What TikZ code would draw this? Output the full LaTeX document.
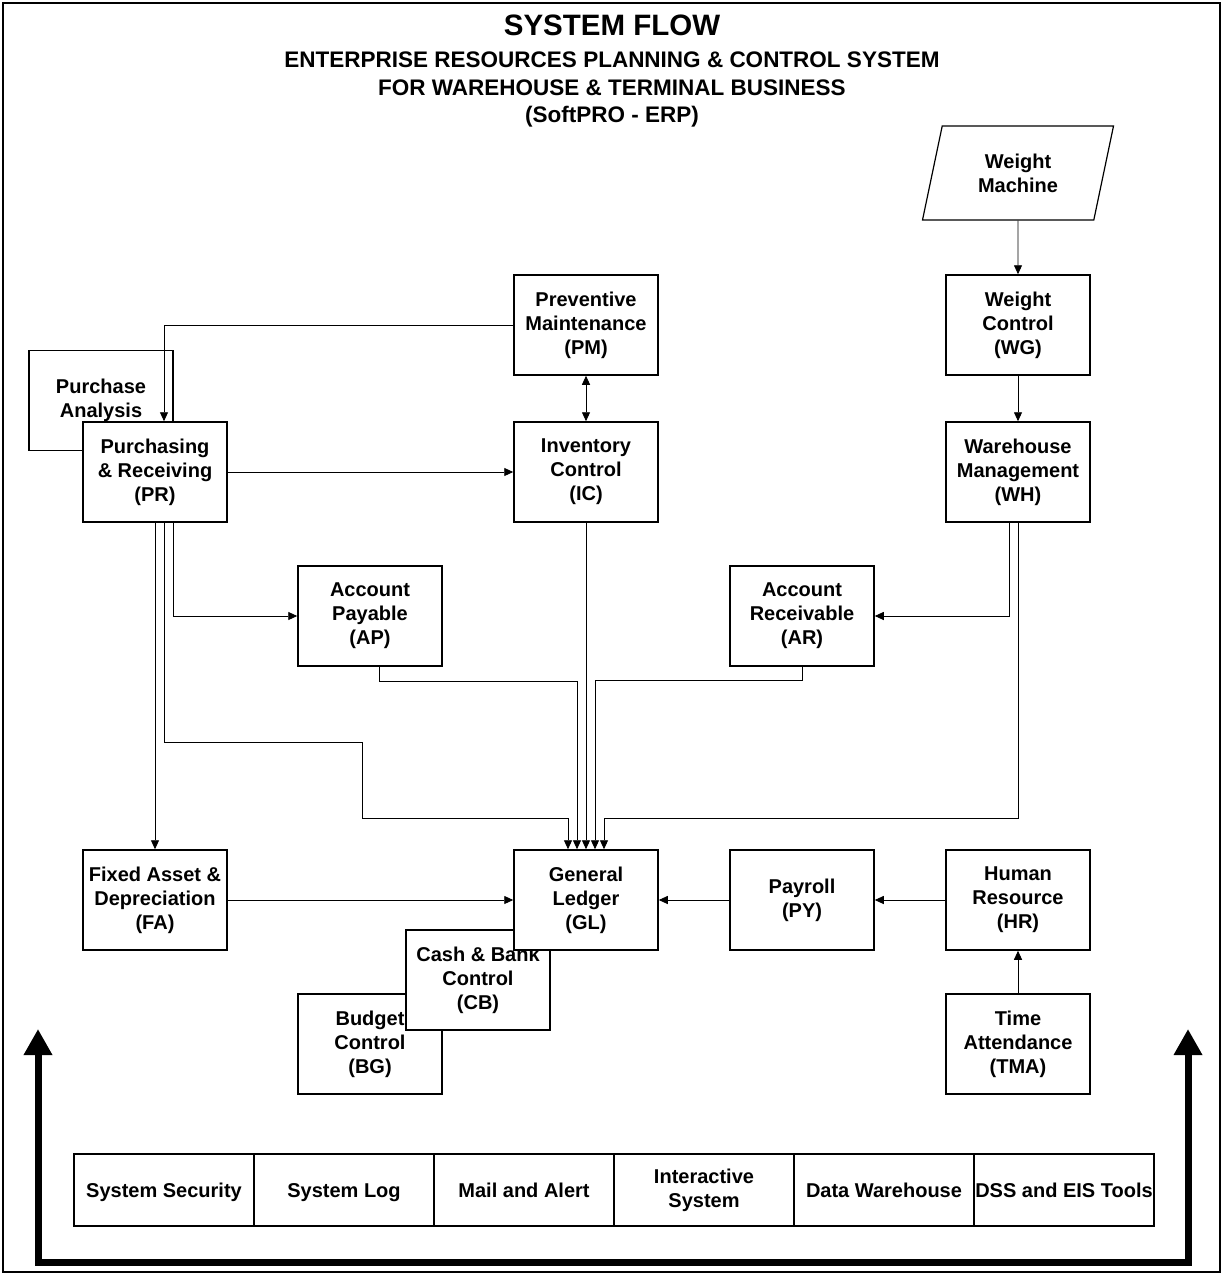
\documentclass[tikz,border=0pt]{standalone}
\usepackage{fontspec}
\setmainfont{Liberation Sans}
\usetikzlibrary{arrows.meta,positioning,shapes.geometric}

\begin{document}
\begin{tikzpicture}[x=1pt,y=-1pt,>={Triangle[width=8pt,length=9pt]},font=\fontsize{20}{24}\selectfont\bfseries]
\tikzset{mod/.style={draw,line width=1.5pt,fill=white,minimum width=144pt,minimum height=100pt,align=center,inner sep=0pt},
arr/.style={->,line width=0.9pt},
cell/.style={draw,line width=1.5pt,minimum width=180pt,minimum height=72pt,align=center,inner sep=0pt},
oneline/.style={text height=14.5pt,text depth=0.5pt},
bigarr/.style={{Triangle[width=27pt,length=26pt]}-{Triangle[width=27pt,length=26pt]},line width=7pt,line join=miter}}
\useasboundingbox (0,0) rectangle (1223,1276);
\draw[line width=1.2pt] (3,3) rectangle (1220,1272);
% title
\node[font=\fontsize{29.5}{34}\selectfont\bfseries] (title) at (612,25) {SYSTEM FLOW};
\node[font=\fontsize{22.5}{27.5}\selectfont\bfseries,align=center] (sub) at (612,89.5) {ENTERPRISE RESOURCES PLANNING \& CONTROL SYSTEM\\FOR WAREHOUSE \& TERMINAL BUSINESS\\(SoftPRO - ERP)};
% modules
\node[trapezium,trapezium left angle=63,trapezium right angle=117,trapezium stretches body,draw,line width=1.2pt,minimum width=191pt,minimum height=94pt,align=center,inner sep=0pt] (WM) at (1018,173) {Weight\\Machine};
\node[mod] (WG) at (1018,325) {Weight\\Control\\(WG)};
\node[mod,below=45.5pt of WG] (WH) {Warehouse\\Management\\(WH)};
\node[mod] (PM) at (586,325) {Preventive\\Maintenance\\(PM)};
\node[mod,below=45.5pt of PM] (IC) {Inventory\\Control\\(IC)};
\node[mod] (PA) at (101,400.5) {Purchase\\Analysis};
\node[mod] (PR) at (155,472) {Purchasing\\\& Receiving\\(PR)};
\node[mod] (AP) at (370,616) {Account\\Payable\\(AP)};
\node[mod] (AR) at (802,616) {Account\\Receivable\\(AR)};
\node[mod] (FA) at (155,900) {Fixed Asset \&\\Depreciation\\(FA)};
\node[mod] (BG) at (370,1044) {Budget\\Control\\(BG)};
\node[mod] (CB) at (478,980) {Cash \& Bank\\Control\\(CB)};
\node[mod] (GL) at (586,900) {General\\Ledger\\(GL)};
\node[mod,right=70.5pt of GL] (PY) {Payroll\\(PY)};
\node[mod,right=70.5pt of PY] (HR) {Human\\Resource\\(HR)};
\node[mod,below=42.5pt of HR] (TMA) {Time\\Attendance\\(TMA)};
% flows
\draw[arr] (WM) -- (WG);
\draw[arr] (WG) -- (WH);
\draw[arr,<->] (PM) -- (IC);
\draw[arr] (PM.west) -| ([xshift=9pt]PR.north);
\draw[arr] (PR) -- (IC);
\draw[arr] ([xshift=18pt]PR.south) |- (AP.west);
\draw[arr] (PR) -- (FA);
\draw[arr] ([xshift=9pt]PR.south) -- ++(0,220) -- ++(198,0) -- ++(0,76) -| ([xshift=-18pt]GL.north);
\draw[arr] ([xshift=9pt]AP.south) -- ++(0,15) -| ([xshift=-9pt]GL.north);
\draw[arr] (IC) -- (GL);
\draw[arr] (AR.south) -- ++(0,14) -| ([xshift=9pt]GL.north);
\draw[arr] ([xshift=-9pt]WH.south) |- (AR.east);
\draw[arr] (WH.south) -- ++(0,296) -| ([xshift=18pt]GL.north);
\draw[arr] (FA) -- (GL);
\draw[arr] (PY) -- (GL);
\draw[arr] (HR) -- (PY);
\draw[arr] (TMA) -- (HR);
% common services
\node[cell,oneline] (sec) at (164,1190) {System Security};
\node[cell,oneline] (log) at (344,1190) {System Log};
\node[cell,oneline] (mail) at (524,1190) {Mail and Alert};
\node[cell] (inter) at (704,1190) {Interactive\\System};
\node[cell,oneline] (dw) at (884,1190) {Data Warehouse};
\node[cell,oneline] (dss) at (1064,1190) {DSS and EIS Tools};
\coordinate (upL) at (38,1029);
\coordinate (upR) at (1188,1029);
\draw[bigarr] (upL) -- (38,1262) -- (1188,1262) -- (upR);
\end{tikzpicture}
\end{document}
